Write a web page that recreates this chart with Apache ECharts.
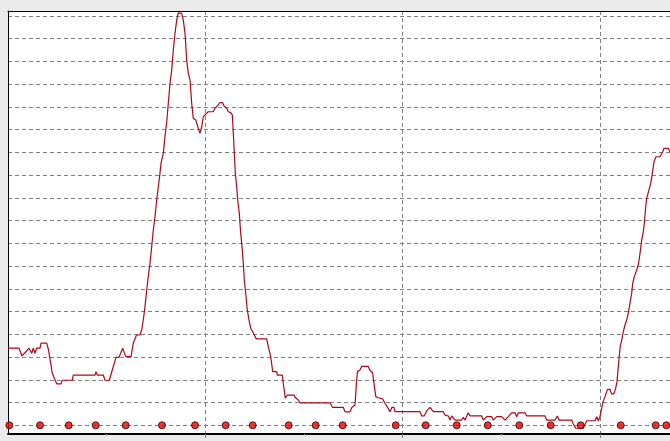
<!DOCTYPE html>
<html>
<head>
<meta charset="utf-8">
<script src="https://cdn.jsdelivr.net/npm/echarts@6/dist/echarts.min.js"></script>
<style>
html,body{margin:0;padding:0;background:#ebebeb;}
#chart{width:670px;height:441px;}
</style>
</head>
<body>
<div id="chart"></div>
<script>
// x in minutes (major grid = 60), y in units (grid = 10)
const lineX = [0,3.35,4.26,5.17,6.39,7.21,7.69,8.21,8.73,9.73,10.04,11.77,12.32,13.08,13.47,14.51,14.90,16.12,16.51,19.55,19.86,26.46,26.76,27.16,28.98,29.50,30.81,31.72,32.84,33.76,34.88,35.37,35.79,37.41,38.10,39.08,40.14,40.66,41.15,41.66,42.18,42.79,43.18,43.70,44.19,44.70,45.22,45.71,46.22,46.53,47.23,47.75,48.26,48.75,49.27,49.78,50.27,50.79,51.30,51.79,52.31,52.82,53.31,53.83,54.34,54.83,55.35,55.86,56.35,57.08,57.87,58.39,58.91,59.39,59.91,60.43,60.91,62.43,62.95,63.95,64.47,65.29,65.69,66.51,67.00,67.73,68.21,68.52,68.82,69.12,69.55,69.85,70.34,70.77,71.16,71.56,71.86,72.29,72.77,73.29,73.81,74.60,75.51,78.67,79.16,79.89,80.50,81.71,81.90,83.42,83.72,84.33,84.94,87.07,87.28,87.80,88.28,88.80,97.92,98.68,101.97,102.49,104.01,104.61,105.53,105.98,106.29,107.05,107.56,109.57,110.09,110.85,111.37,111.85,112.61,113.95,114.65,115.71,116.17,116.78,117.39,117.69,125.29,125.81,126.57,127.33,128.33,129.34,132.38,132.90,133.90,134.42,134.93,135.42,135.94,137.97,138.46,138.98,139.50,139.98,140.50,144.06,144.54,145.06,145.58,147.10,147.59,148.62,150.14,151.14,152.15,152.66,153.18,154.18,154.70,155.19,157.22,157.74,163.31,163.82,166.35,167.05,167.56,171.43,171.91,172.64,174.95,175.99,178.51,179.03,179.52,180.03,180.55,181.04,181.55,182.31,183.07,183.59,184.23,184.75,185.20,185.60,186.12,186.63,187.12,187.64,188.15,188.64,189.16,189.67,189.98,190.46,191.19,191.68,192.20,192.71,193.20,193.51,193.93,194.23,194.93,195.45,195.94,196.46,197.06,198.28,199.10,199.50,200.80,201.32,202.5];
const lineY = [33.9,33.9,30.5,31.9,33.9,31.7,33.9,31.7,33.9,33.9,36.1,36.1,33.1,26.5,22.9,19.2,18.2,18.2,19.8,19.8,22.1,22.1,23.6,22.1,22.1,19.8,19.8,24.3,29.9,29.9,33.9,33.9,30.2,30.2,36.1,39.7,39.7,41.9,46.3,52.2,59.5,67.0,71.2,78.5,85.9,91.7,99.1,104.9,110.8,115.2,119.6,127.2,133.4,141.6,150.4,156.2,165.0,172.4,178.2,181.4,182.0,181.2,178.2,172.4,160.6,154.8,151.9,141.6,135.0,134.3,130.6,128.4,131.3,135.6,136.5,135.7,137.9,137.9,139.4,140.9,141.9,141.9,140.4,139.4,137.9,137.5,136.5,128.4,119.6,110.8,104.9,99.1,93.2,84.4,78.5,71.2,63.9,58.1,50.7,46.3,42.7,40.6,38.0,38.0,34.6,30.2,23.6,23.6,22.1,22.1,18.5,11.9,13.3,13.3,12.3,12.3,11.1,9.9,9.9,7.9,7.9,5.9,5.9,7.9,8.9,19.0,23.6,24.3,25.9,25.9,24.1,23.2,17.7,12.6,12.1,11.6,9.7,7.2,6.0,7.9,7.9,6.0,6.0,4.1,4.1,6.3,7.9,6.0,6.0,4.5,4.1,2.3,4.1,4.1,2.3,2.3,3.5,2.3,3.1,5.5,4.1,4.1,2.3,2.3,3.8,3.8,2.3,3.8,3.8,2.3,3.8,3.5,5.5,5.5,3.8,5.5,5.5,4.1,4.1,2.3,2.3,4.1,2.3,2.3,0.6,-1.3,-1.3,2.0,2.0,3.8,2.0,3.8,7.6,10.7,12.6,15.8,15.8,13.8,13.8,16.0,19.2,25.8,34.0,37.5,41.2,44.1,46.3,49.3,53.7,58.1,62.4,65.4,68.3,70.5,75.6,81.5,85.1,88.8,96.1,99.8,103.5,106.4,110.8,115.9,118.1,118.1,120.3,121.8,121.8,120.3,119.0];
const markerX = [0.40,9.73,18.46,26.67,35.79,46.83,56.87,66.20,74.42,85.36,93.57,101.78,117.90,127.02,136.45,145.88,155.49,165.04,174.16,186.33,196.97,200.19];
const markerY = markerX.map(() => 0);
const yGridValues = [0,10,20,30,40,50,60,70,80,90,100,110,120,130,140,150,160,170,180];
const xMajorValues = [60,120,180];
const xMinorValues = [30,90,150];

const chart = echarts.init(document.getElementById('chart'));
const dash = {color:'#808080', width:1, type:[4,3]};
chart.setOption({
  animation: false,
  backgroundColor: '#ebebeb',
  grid: {left:8, top:11, right:0, bottom:7, show:true, backgroundColor:'#ffffff', borderWidth:0},
  xAxis: [
    {type:'value', min:0, max:201.32, position:'bottom',
     axisLine:{show:true, onZero:false, lineStyle:{color:'#000', width:2}},
     axisTick:{show:true, customValues:xMajorValues, length:7, inside:false, lineStyle:dash},
     axisLabel:{show:false},
     splitLine:{show:true, lineStyle:dash}},
    {type:'value', min:0, max:201.32, position:'bottom',
     axisLine:{show:false, onZero:false},
     axisTick:{show:true, customValues:xMinorValues, length:2, lineStyle:{color:'#aaaaaa', width:1}},
     axisLabel:{show:false}, splitLine:{show:false}},
    {type:'value', min:0, max:201.32, position:'top',
     axisLine:{show:true, onZero:false, lineStyle:{color:'#000', width:1}},
     axisTick:{show:false}, axisLabel:{show:false}, splitLine:{show:false}}
  ],
  yAxis: {type:'value', min:-3.83, max:182.2,
    axisLine:{show:true, onZero:false, lineStyle:{color:'#000', width:1}},
    axisTick:{show:false, customValues:yGridValues},
    axisLabel:{show:false},
    splitLine:{show:true, lineStyle:dash}},
  series: [
    {type:'line', xAxisIndex:0, data: lineX.map((x,i)=>[x,lineY[i]]), showSymbol:false, symbol:'none',
     lineStyle:{color:'#b00814', width:1.2}, z:3, clip:true},
    {type:'scatter', xAxisIndex:0, data: markerX.map((x,i)=>[x,markerY[i]]), symbolSize:7,
     itemStyle:{color:'#ee0000', borderColor:'#300000', borderWidth:1}, z:4}
  ]
});
</script>
</body>
</html>
